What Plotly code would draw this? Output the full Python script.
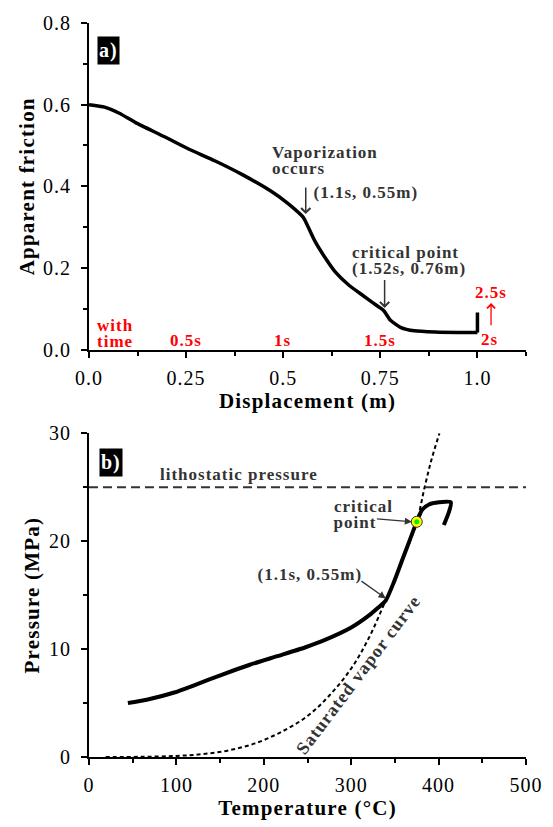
import plotly.graph_objects as go

# ---- panel a: apparent friction vs slip displacement ----
disp = [0.0, 0.04, 0.078, 0.12, 0.193, 0.255, 0.325, 0.396, 0.467, 0.511, 0.540, 0.553,
        0.564, 0.582, 0.608, 0.635, 0.670, 0.706, 0.732, 0.750, 0.760, 0.776, 0.803,
        0.838, 0.891, 0.95, 1.0]
friction = [0.600, 0.594, 0.579, 0.556, 0.522, 0.492, 0.462, 0.428, 0.389, 0.359, 0.335, 0.322,
            0.301, 0.265, 0.225, 0.189, 0.157, 0.132, 0.114, 0.102, 0.094, 0.072, 0.054,
            0.046, 0.043, 0.042, 0.042]
# displacement stops at 1 m while friction rises from 2 s to 2.5 s
end_disp = [1.0, 1.0]
end_friction = [0.042, 0.091]

# time marks written along the displacement axis
time_labels = ["0.5s", "1s", "1.5s"]
time_disp = [0.25, 0.5, 0.75]

# ---- panel b: pressure-temperature path ----
temp = [44.5, 66, 97.6, 121, 152.6, 184, 215.6, 247, 270, 300, 320, 331, 339.5,
        349.3, 359, 367, 373, 375, 381, 389, 400.5, 414, 412, 406]
pressure = [5.0, 5.31, 5.98, 6.67, 7.64, 8.55, 9.35, 10.15, 10.85, 12.0, 13.1, 13.85, 14.5,
            16.3, 18.4, 20.1, 21.4, 21.8, 22.9, 23.4, 23.6, 23.6, 22.75, 21.5]

# saturated vapour curve of water
sat_temp = [19, 60, 100, 130, 160, 190, 220, 250, 275, 300, 320, 339.5, 350, 360, 375, 384, 392, 401]
sat_press = [0.0, 0.02, 0.1, 0.27, 0.62, 1.26, 2.32, 3.8, 5.7, 8.2, 11.0, 14.5, 16.4, 18.5, 21.8, 25.0, 27.6, 30.0]

crit_temp, crit_press = 375, 21.8
litho_press = 25

FONT = "Liberation Serif, Times New Roman, serif"
GRAY = "#333333"
RED = "#ff0000"
TRACK = 1.0  # px of extra letter spacing on annotation text

fig = go.Figure()

fig.add_trace(go.Scatter(x=disp, y=friction, mode="lines", line_shape="spline",
                         line=dict(color="black", width=3.5, smoothing=0.5),
                         xaxis="x", yaxis="y", showlegend=False))
fig.add_trace(go.Scatter(x=end_disp, y=end_friction, mode="lines",
                         line=dict(color="black", width=3.5),
                         xaxis="x", yaxis="y", showlegend=False))

fig.add_trace(go.Scatter(x=sat_temp, y=sat_press, mode="lines", line_shape="spline",
                         line=dict(color="black", width=2, dash="4px,3px"),
                         xaxis="x2", yaxis="y2", showlegend=False))
fig.add_trace(go.Scatter(x=temp, y=pressure, mode="lines", line_shape="spline",
                         line=dict(color="black", width=4, smoothing=0.6),
                         xaxis="x2", yaxis="y2", showlegend=False))
fig.add_trace(go.Scatter(x=[crit_temp], y=[crit_press], mode="markers",
                         marker=dict(size=11, color="#ffff00", line=dict(color="#333", width=1)),
                         xaxis="x2", yaxis="y2", showlegend=False))
fig.add_trace(go.Scatter(x=[crit_temp], y=[crit_press], mode="markers",
                         marker=dict(size=5, color="#00ee00"),
                         xaxis="x2", yaxis="y2", showlegend=False))

fig.add_shape(type="line", x0=0, x1=1, y0=litho_press, y1=litho_press,
              xref="x2 domain", yref="y2",
              line=dict(color=GRAY, width=1.8, dash="9px,5px"))

tickfont = dict(family=FONT, size=20, color="black")
titlefont = dict(family=FONT, size=21, color="black")

def base_axis(**kw):
    d = dict(showline=True, linecolor="black", linewidth=2, ticks="outside", ticklen=6,
             tickwidth=1.5, tickcolor="black", showgrid=False, zeroline=False,
             tickfont=tickfont, title_font=titlefont, fixedrange=True)
    d.update(kw)
    return d

def mirror_axis(**kw):
    d = dict(showline=True, linecolor="black", linewidth=2, ticks="inside", ticklen=6,
             tickwidth=1.5, tickcolor="black", showgrid=False, zeroline=False,
             showticklabels=False, fixedrange=True)
    d.update(kw)
    return d

top_dom = [0.555, 1.0]
bot_dom = [0.0, 0.441]

xa_ticks = dict(tickvals=[0, 0.25, 0.5, 0.75, 1.0], ticktext=["0.0", "0.25", "0.5", "0.75", "1.0"])
ya_ticks = dict(tickvals=[0, 0.2, 0.4, 0.6, 0.8], ticktext=["0.0", "0.2", "0.4", "0.6", "0.8"])
xb_ticks = dict(tickvals=[0, 100, 200, 300, 400, 500])
yb_ticks = dict(tickvals=[0, 10, 20, 30])

fig.update_layout(
    width=553, height=827,
    margin=dict(l=89, r=17, t=17, b=64),
    plot_bgcolor="white", paper_bgcolor="white",
    xaxis=base_axis(domain=[0, 1], range=[0, 1.125], anchor="y", ticklabelstandoff=3,
                    minor=dict(dtick=0.125, ticks="outside", ticklen=4, tickcolor="black"),
                    title=dict(text="<b>Displacement (m)</b>", standoff=4), **xa_ticks),
    yaxis=base_axis(domain=top_dom, range=[0, 0.8], anchor="x", ticklabelstandoff=6,
                    minor=dict(dtick=0.1, ticks="outside", ticklen=4, tickcolor="black"),
                    title=dict(text="<b>Apparent friction</b>", standoff=6), **ya_ticks),
    xaxis3=mirror_axis(overlaying="x", side="top", anchor="y", range=[0, 1.125],
                       minor=dict(dtick=0.125, ticks="inside", ticklen=4, tickcolor="black"),
                       **xa_ticks),
    yaxis3=mirror_axis(overlaying="y", side="right", anchor="x", range=[0, 0.8],
                       minor=dict(dtick=0.1, ticks="inside", ticklen=4, tickcolor="black"),
                       **ya_ticks),
    xaxis2=base_axis(domain=[0, 1], range=[0, 500], anchor="y2", ticklabelstandoff=3,
                     minor=dict(dtick=50, ticks="outside", ticklen=4, tickcolor="black"),
                     title=dict(text="<b>Temperature (°C)</b>", standoff=4), **xb_ticks),
    yaxis2=base_axis(domain=bot_dom, range=[0, 30], anchor="x2", ticklabelstandoff=6,
                     minor=dict(dtick=5, ticks="outside", ticklen=4, tickcolor="black"),
                     title=dict(text="<b>Pressure (MPa)</b>", standoff=6), **yb_ticks),
    xaxis4=mirror_axis(overlaying="x2", side="top", anchor="y2", range=[0, 500],
                       minor=dict(dtick=50, ticks="inside", ticklen=4, tickcolor="black"),
                       **xb_ticks),
    yaxis4=mirror_axis(overlaying="y2", side="right", anchor="x2", range=[0, 30],
                       minor=dict(dtick=5, ticks="inside", ticklen=4, tickcolor="black"),
                       **yb_ticks),
)

def note(text, x, y, xr, yr, color=GRAY, size=17, xanchor="left", **kw):
    # the extra tracking widens the text around its centre; keep left edges in place
    shift = len(text) * TRACK / 2 if xanchor == "left" else 0
    fig.add_annotation(text="<b>%s</b>" % text, x=x, y=y, xref=xr, yref=yr,
                       showarrow=False, xanchor=xanchor, yanchor="middle", xshift=shift,
                       font=dict(family=FONT, size=size, color=color), **kw)

def arrow(x0, y0, x1, y1, xr, yr, color=GRAY, head=4, width=1.5, size=1.2):
    fig.add_annotation(x=x1, y=y1, ax=x0, ay=y0, xref=xr, yref=yr, axref=xr, ayref=yr,
                       text="", showarrow=True, arrowhead=head, arrowwidth=width,
                       arrowsize=size, arrowcolor=color)

# panel labels
for lab, x, y, xr, yr in [("a)", 0.050, 0.733, "x", "y"), ("b)", 25.6, 27.3, "x2", "y2")]:
    fig.add_annotation(text="<b>%s</b>" % lab, x=x, y=y, xref=xr, yref=yr, showarrow=False,
                       bgcolor="black", borderpad=2,
                       font=dict(family=FONT, size=20, color="white"))

# panel a notes
note("Vaporization", 0.467, 0.482, "x", "y")
note("occurs", 0.467, 0.444, "x", "y")
arrow(0.558, 0.401, 0.558, 0.332, "x", "y")
note("(1.1s, 0.55m)", 0.574, 0.385, "x", "y")
note("critical point", 0.672, 0.238, "x", "y")
note("(1.52s, 0.76m)", 0.672, 0.199, "x", "y")
arrow(0.761, 0.174, 0.761, 0.102, "x", "y")

note("with", 0.069, 0.058, "x", "y", color=RED, xanchor="center")
note("time", 0.069, 0.021, "x", "y", color=RED, xanchor="center")
for lab, xv in zip(time_labels, time_disp):
    note(lab, xv, 0.022, "x", "y", color=RED, xanchor="center")
note("2s", 1.033, 0.026, "x", "y", color=RED, xanchor="center")
note("2.5s", 1.035, 0.139, "x", "y", color=RED, xanchor="center")
arrow(1.035, 0.056, 1.035, 0.114, "x", "y", color=RED, head=4, width=1.3)

# panel b notes
note("lithostatic pressure", 78.6, 26.2, "x2", "y2")
note("critical", 277.7, 23.2, "x2", "y2")
note("point", 277.7, 21.75, "x2", "y2")
arrow(327.7, 22.08, 369.5, 21.8, "x2", "y2", head=2, width=1.3, size=1.1)
note("(1.1s, 0.55m)", 190, 16.9, "x2", "y2")
arrow(310, 16.4, 339.5, 14.7, "x2", "y2", head=2, width=1.3, size=1.1)
note("Saturated vapor curve", 308, 7.6, "x2", "y2", size=18, xanchor="center", textangle=-53)

# loose letter tracking of the typeset labels
tracking = """
document.querySelectorAll('g.xtick text, g.ytick text, g.x2tick text, g.y2tick text')
  .forEach(function(e){ e.style.letterSpacing = '1px'; });
document.querySelectorAll('text.xtitle, text.ytitle, text.x2title, text.y2title')
  .forEach(function(e){ e.style.letterSpacing = '1.2px'; });
document.querySelectorAll('text.annotation-text')
  .forEach(function(e){ e.style.letterSpacing = '%spx'; });
""" % TRACK

fig.write_html("out.html", post_script=tracking)
